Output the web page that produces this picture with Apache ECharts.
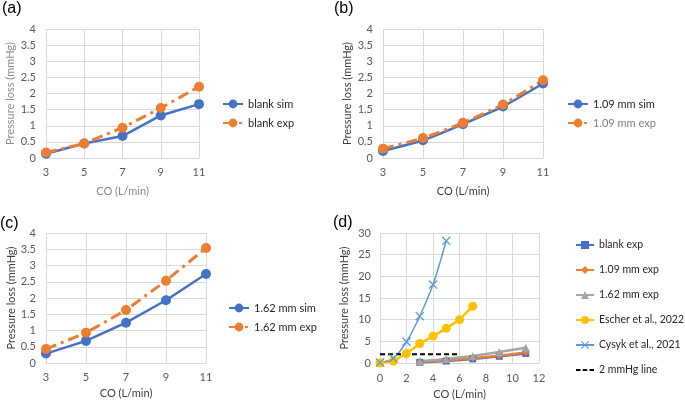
<!DOCTYPE html>
<html>
<head>
<meta charset="utf-8">
<script src="https://cdn.jsdelivr.net/npm/echarts@6/dist/echarts.min.js"></script>
<style>
  html, body { margin: 0; padding: 0; background: #fff; }
  #wrap { position: relative; width: 685px; height: 402px; }
  .layer { position: absolute; left: 0; top: 0; width: 685px; height: 402px; }
</style>
</head>
<body>
<div id="wrap">
  <div id="chartA" class="layer"></div>
  <div id="chartB" class="layer"></div>
  <div id="chartC" class="layer"></div>
  <div id="chartD" class="layer"></div>
</div>
<script>
// data
const coLabels = ['3', '5', '7', '9', '11'];
const blankSim = [0.13, 0.45, 0.68, 1.32, 1.67];
const blankExp = [0.17, 0.45, 0.94, 1.55, 2.21];
const sim109 = [0.22, 0.55, 1.05, 1.60, 2.31];
const exp109 = [0.29, 0.62, 1.09, 1.66, 2.41];
const sim162 = [0.29, 0.68, 1.24, 1.93, 2.74];
const exp162 = [0.43, 0.93, 1.63, 2.53, 3.54];
const escherCO = [0, 1, 2, 3, 4, 5, 6, 7];
const escher = [0, 0.46, 2.2, 4.5, 6.2, 8.0, 10.0, 13.1];
const cysykCO = [0, 1, 2, 3, 4, 5];
const cysyk = [0.1, 1.1, 4.9, 10.8, 18.1, 28.2];
const limitCO = [0, 6];
const limitVal = [2, 2];

const FONT = 'Lato';
const BLUE = '#4472C4';
const ORANGE = '#ED7D31';
const GRAY = '#A5A5A5';
const YELLOW = '#FFC000';
const LIGHTBLUE = '#5B9BD5';
const GRID_LINE = '#D9D9D9';
const TICK = '#595959';

const pairs = (xs, ys) => xs.map((x, i) => [x, ys[i]]);

// 小面板 (a)(b)(c)
function smallPanel(id, cfg) {
  const chart = echarts.init(document.getElementById(id));
  chart.setOption({
    animation: false,
    backgroundColor: 'transparent',
    textStyle: { fontFamily: FONT },
    graphic: [{
      type: 'text', left: cfg.labelPos[0], top: cfg.labelPos[1],
      style: { text: cfg.label, font: '16px "Liberation Sans"', fill: '#000' }
    }],
    grid: cfg.grid,
    legend: {
      orient: 'vertical',
      left: cfg.legendPos[0], top: cfg.legendPos[1],
      itemWidth: 20, itemHeight: 11, itemGap: 5,
      textStyle: { fontFamily: FONT, fontSize: 11, color: '#262626', lineHeight: 14 },
      data: [
        { name: cfg.simName },
        { name: cfg.expName, textStyle: { color: cfg.expLegendColor || '#262626' } }
      ]
    },
    xAxis: {
      type: 'category',
      data: coLabels,
      boundaryGap: false,
      name: 'CO (L/min)',
      nameLocation: 'middle',
      nameGap: cfg.xNameGap,
      nameTextStyle: { fontFamily: FONT, fontSize: 11, color: cfg.nameColor },
      axisLine: { lineStyle: { color: GRID_LINE } },
      axisTick: { show: false },
      axisLabel: { color: TICK, fontSize: 11, fontFamily: FONT, margin: 9 },
      splitLine: { show: true, lineStyle: { color: GRID_LINE } }
    },
    yAxis: {
      type: 'value',
      min: 0, max: 4, interval: 0.5,
      name: 'Pressure loss (mmHg)',
      nameLocation: 'middle',
      nameGap: cfg.yNameGap,
      nameTextStyle: { fontFamily: FONT, fontSize: 11, color: cfg.nameColor },
      axisLine: { show: false },
      axisTick: { show: false },
      axisLabel: { color: TICK, fontSize: 11, fontFamily: FONT, margin: 10 },
      splitLine: { lineStyle: { color: GRID_LINE } }
    },
    series: [
      {
        name: cfg.simName, type: 'line', data: cfg.sim,
        smooth: cfg.smooth || false,
        symbol: 'circle', symbolSize: 10,
        lineStyle: { color: BLUE, width: 2.5 },
        itemStyle: { color: BLUE }
      },
      {
        name: cfg.expName, type: 'line', data: cfg.exp,
        smooth: cfg.smooth || false,
        symbol: 'circle', symbolSize: 10,
        lineStyle: { color: ORANGE, width: 3, type: [11, 5, 3, 5] },
        itemStyle: { color: ORANGE }
      }
    ]
  });
}

smallPanel('chartA', {
  label: '(a)', labelPos: [2, 1],
  grid: { left: 46, top: 29, width: 153, height: 129 },
  legendPos: [217, 92],
  simName: 'blank sim', expName: 'blank exp',
  sim: blankSim, exp: blankExp,
  nameColor: '#8C8C8C', xNameGap: 28, yNameGap: 30
});

smallPanel('chartB', {
  label: '(b)', labelPos: [334, 1],
  grid: { left: 383, top: 29, width: 160, height: 129 },
  legendPos: [562, 92],
  simName: '1.09 mm sim', expName: '1.09 mm exp',
  sim: sim109, exp: exp109, smooth: 0.2,
  expLegendColor: '#7F7F7F',
  nameColor: '#404040', xNameGap: 28, yNameGap: 30
});

smallPanel('chartC', {
  label: '(c)', labelPos: [0, 216],
  grid: { left: 46, top: 233, width: 160, height: 130 },
  legendPos: [223, 296],
  simName: '1.62 mm sim', expName: '1.62 mm exp',
  sim: sim162, exp: exp162,
  nameColor: '#404040', xNameGap: 25, yNameGap: 28
});

// 文献对比面板 (d)
const xPath = 'path://M0,1 L1,0 L5,4 L9,0 L10,1 L6,5 L10,9 L9,10 L5,6 L1,10 L0,9 L4,5 Z';
const dashPath = 'path://M0,0 h5 v2 h-5 Z M7.5,0 h5 v2 h-5 Z M15,0 h5 v2 h-5 Z';
const coNum = coLabels.map(Number);
const chartD = echarts.init(document.getElementById('chartD'));
chartD.setOption({
  animation: false,
  backgroundColor: 'transparent',
  textStyle: { fontFamily: FONT },
  graphic: [{
    type: 'text', left: 333, top: 215,
    style: { text: '(d)', font: '16px "Liberation Sans"', fill: '#000' }
  }],
  grid: { left: 380, top: 233, width: 159, height: 130 },
  legend: {
    orient: 'vertical',
    left: 570, top: 233,
    itemWidth: 18, itemHeight: 10, itemGap: 11,
    textStyle: { fontFamily: FONT, fontSize: 10.5, color: '#262626', lineHeight: 14 },
    data: [
      'blank exp', '1.09 mm exp', '1.62 mm exp', 'Escher et al., 2022', 'Cysyk et al., 2021',
      { name: '2 mmHg line', icon: dashPath, itemStyle: { color: '#000' } }
    ]
  },
  xAxis: {
    type: 'value',
    min: 0, max: 12, interval: 2,
    name: 'CO (L/min)',
    nameLocation: 'middle',
    nameGap: 26,
    nameTextStyle: { fontFamily: FONT, fontSize: 11, color: '#404040' },
    axisLine: { lineStyle: { color: GRID_LINE } },
    axisTick: { show: false },
    axisLabel: { color: TICK, fontSize: 11, fontFamily: FONT, margin: 10 },
    splitLine: { show: true, lineStyle: { color: GRID_LINE } }
  },
  yAxis: {
    type: 'value',
    min: 0, max: 30, interval: 5,
    name: 'Pressure loss (mmHg)',
    nameLocation: 'middle',
    nameGap: 30,
    nameTextStyle: { fontFamily: FONT, fontSize: 11, color: '#404040' },
    axisLine: { show: false },
    axisTick: { show: false },
    axisLabel: { color: TICK, fontSize: 11, fontFamily: FONT, margin: 9 },
    splitLine: { lineStyle: { color: GRID_LINE } }
  },
  series: [
    {
      name: 'blank exp', type: 'line', data: pairs(coNum, blankExp),
      symbol: 'rect', symbolSize: 7,
      lineStyle: { color: BLUE, width: 2.5 }, itemStyle: { color: BLUE }
    },
    {
      name: '1.09 mm exp', type: 'line', data: pairs(coNum, exp109),
      symbol: 'diamond', symbolSize: 7,
      lineStyle: { color: ORANGE, width: 2.5 }, itemStyle: { color: ORANGE }
    },
    {
      name: '1.62 mm exp', type: 'line', data: pairs(coNum, exp162),
      symbol: 'triangle', symbolSize: 8,
      lineStyle: { color: GRAY, width: 2.5 }, itemStyle: { color: GRAY }
    },
    {
      name: 'Escher et al., 2022', type: 'line', data: pairs(escherCO, escher),
      symbol: 'circle', symbolSize: 9,
      lineStyle: { color: YELLOW, width: 2.5 }, itemStyle: { color: YELLOW }
    },
    {
      name: 'Cysyk et al., 2021', type: 'line', data: pairs(cysykCO, cysyk),
      smooth: 0.3,
      symbol: xPath, symbolSize: 9,
      lineStyle: { color: LIGHTBLUE, width: 1.5 }, itemStyle: { color: LIGHTBLUE }
    },
    {
      name: '2 mmHg line', type: 'line', data: pairs(limitCO, limitVal),
      symbol: 'none',
      lineStyle: { color: '#000', width: 2, type: [5, 3] }, itemStyle: { color: '#000' }
    }
  ]
});
</script>
</body>
</html>
